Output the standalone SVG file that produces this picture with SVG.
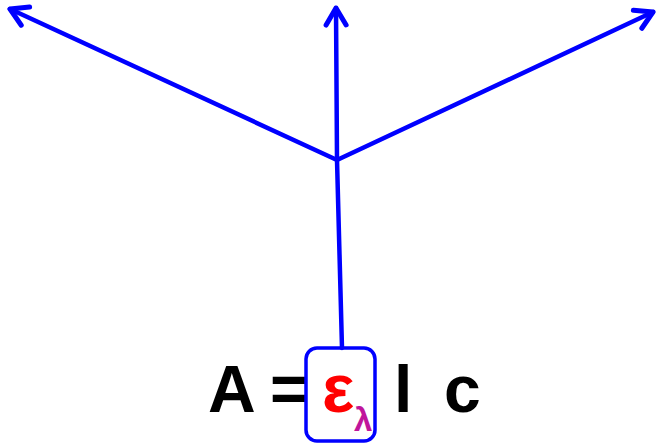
<svg xmlns="http://www.w3.org/2000/svg" width="658" height="446" viewBox="0 0 658 446">
<style>
.c{stroke:#0000ff;stroke-width:4.5;fill:none;stroke-linecap:round}
.t{font-family:"Liberation Sans",Arial,sans-serif;font-weight:bold;fill:#000}
</style>
<defs>
<marker id="ah" markerUnits="userSpaceOnUse" viewBox="-22 -12 26 24" markerWidth="26" markerHeight="24" refX="0" refY="0" orient="auto" overflow="visible">
<path d="M-17,-10 L0,0 L-17,10" fill="none" stroke="#0000ff" stroke-width="5" stroke-linecap="round" stroke-linejoin="round"/>
</marker>
</defs>
<g id="connectors">
<line class="c" x1="337" y1="160" x2="10" y2="9" marker-end="url(#ah)"/>
<line class="c" x1="337" y1="160" x2="336" y2="8" marker-end="url(#ah)"/>
<line class="c" x1="337" y1="160" x2="653" y2="12" marker-end="url(#ah)"/>
<line class="c" x1="337" y1="160" x2="342" y2="348"/>
</g>
<g id="equation">
<text class="t" x="208" y="412" font-size="66">A</text>
<text class="t" x="270" y="412" font-size="66">=</text>
<rect x="306" y="348" width="69" height="93" rx="11" fill="none" stroke="#0000ff" stroke-width="3.5"/>
<text x="322" y="412" font-family="'Liberation Sans',Arial,sans-serif" font-weight="bold" font-size="68" fill="#ff0000">ε</text>
<text x="354" y="431" font-family="'Liberation Sans',Arial,sans-serif" font-weight="bold" font-size="33" fill="#c0159b">λ</text>
<text class="t" x="394" y="412" font-size="66">l</text>
<text class="t" x="444" y="412" font-size="66">c</text>
</g>
</svg>
